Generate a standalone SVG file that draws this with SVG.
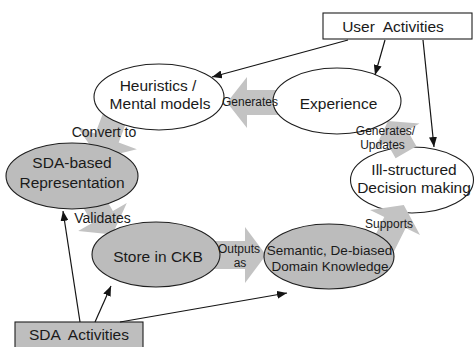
<svg xmlns="http://www.w3.org/2000/svg" width="475" height="347" viewBox="0 0 475 347">
  <defs>
    <style>
      .node-white { fill: #ffffff; stroke: #1e1e1e; stroke-width: 1.1; }
      .node-gray { fill: #bcbcbc; stroke: #1e1e1e; stroke-width: 1.1; }
      .block { fill: #c3c3c3; stroke: none; }
      .link { fill: none; stroke: #141414; stroke-width: 1.2; marker-end: url(#tip); }
      text { font-family: "Liberation Sans", Arial, sans-serif; fill: #1a1a1a; text-anchor: middle; }
      .t-node { font-size: 15.5px; }
      .t-small { font-size: 13.5px; }
      .t-lbl { font-size: 12px; }
      .t-lbl-lg { font-size: 14px; }
      .pre { white-space: pre; }
    </style>
    <marker id="tip" viewBox="0 0 10 8" refX="10" refY="4" markerUnits="userSpaceOnUse" markerWidth="10" markerHeight="8" orient="auto">
      <path d="M0,0 L10,4 L0,8 z" fill="#141414"/>
    </marker>
  </defs>

  <!-- decision node sits below the block arrows that reach into it -->
  <g id="node-decision">
    <ellipse class="node-white" cx="412" cy="180" rx="61.5" ry="33"/>
    <text class="t-node" x="414" y="175">Ill-structured</text>
    <text class="t-node" x="414" y="193">Decision making</text>
  </g>

  <!-- wide block arrows of the knowledge cycle -->
  <g id="block-arrows">
    <!-- Experience -> Heuristics -->
    <polygon class="block" points="285,90 247,90 247,77 227,102.5 247,128 247,115 285,115"/>
    <!-- Heuristics -> SDA-based Representation -->
    <polygon class="block" points="106.6,103.7 95.3,133.6 77.1,126.7 99.2,158.6 136.9,149.3 118.7,142.4 130,112.5"/>
    <!-- SDA-based Representation -> Store in CKB -->
    <polygon class="block" points="99,186.7 112.9,211 126.8,203.1 112.4,234.4 78.2,230.9 92.1,223 78.2,198.7"/>
    <!-- Store in CKB -> Semantic knowledge -->
    <polygon class="block" points="210,241 245,241 245,227 266,255 245,283 245,269 210,269"/>
    <!-- Semantic knowledge -> Decision making -->
    <polygon class="block" points="370.9,243.9 384.3,217.1 370,210 403.8,205 420,235 405.7,227.9 392.3,254.7"/>
    <!-- Decision making -> Experience -->
    <polygon class="block" points="416.4,146.2 407.4,130.6 419.5,123.6 388,121 374.5,149.6 386.6,142.6 395.6,158.2"/>
  </g>

  <g id="node-heuristics">
    <ellipse class="node-white" cx="159" cy="97" rx="65" ry="33"/>
    <text class="t-node" x="158" y="90.5">Heuristics /</text>
    <text class="t-node" x="160" y="109">Mental models</text>
  </g>

  <g id="node-experience">
    <ellipse class="node-white" cx="337" cy="101" rx="64" ry="33"/>
    <text class="t-node" x="338.5" y="108.5">Experience</text>
  </g>

  <g id="node-sda-representation">
    <ellipse class="node-gray" cx="72" cy="176" rx="66" ry="33"/>
    <text class="t-node" x="72" y="168">SDA-based</text>
    <text class="t-node" x="72" y="188">Representation</text>
  </g>

  <g id="node-store">
    <ellipse class="node-gray" cx="156" cy="254.5" rx="64" ry="32.5"/>
    <text class="t-node" x="158" y="262">Store in CKB</text>
  </g>

  <g id="node-semantic">
    <ellipse class="node-gray" cx="329" cy="256.5" rx="65" ry="32.5"/>
    <text class="t-small" x="329.5" y="255">Semantic, De-biased</text>
    <text class="t-small" x="330" y="271">Domain Knowledge</text>
  </g>

  <g id="node-user-activities">
    <rect x="323" y="13" width="149" height="26" fill="#ffffff" stroke="#1e1e1e" stroke-width="1.1"/>
    <text class="t-node pre" x="393" y="32">User  Activities</text>
  </g>

  <g id="node-sda-activities">
    <rect x="15" y="322" width="128" height="30" fill="#bebebe" stroke="#1e1e1e" stroke-width="1.1"/>
    <text class="t-node pre" x="79" y="340">SDA  Activities</text>
  </g>

  <!-- thin influence links -->
  <g id="links">
    <line class="link" x1="348" y1="40" x2="212" y2="77"/>
    <line class="link" x1="385" y1="40" x2="375" y2="75"/>
    <line class="link" x1="423" y1="40" x2="434" y2="147"/>
    <line class="link" x1="80" y1="322" x2="63" y2="211"/>
    <line class="link" x1="95" y1="322" x2="111" y2="286"/>
    <line class="link" x1="120" y1="322" x2="287" y2="293"/>
  </g>

  <g id="connector-labels">
    <text class="t-lbl" x="250" y="106">Generates</text>
    <text class="t-lbl-lg" x="104" y="137">Convert to</text>
    <text class="t-lbl-lg" x="102.5" y="223">Validates</text>
    <text class="t-lbl" x="239" y="253">Outputs</text>
    <text class="t-lbl" x="240" y="267">as</text>
    <text class="t-lbl" x="389" y="228">Supports</text>
    <text class="t-lbl" x="385.5" y="135">Generates/</text>
    <text class="t-lbl" x="382.5" y="149">Updates</text>
  </g>
</svg>
